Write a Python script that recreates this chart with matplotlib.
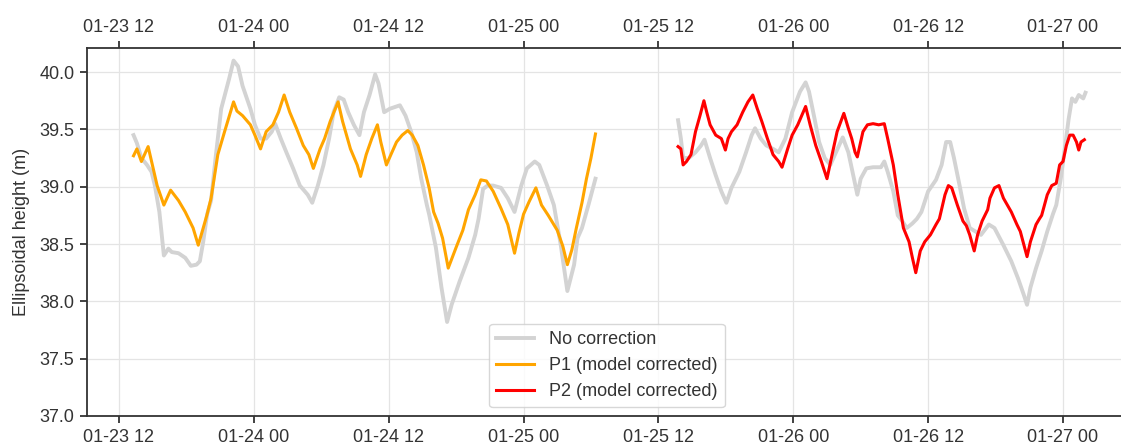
import matplotlib
matplotlib.use("Agg")
import matplotlib.pyplot as plt
import matplotlib.dates as mdates
import pandas as pd

plt.rcParams['font.family'] = ['Liberation Sans', 'DejaVu Sans']

START = pd.Timestamp("2021-01-23 12:00")

# Period 1: hours after 01-23 12:00
p1_raw_hours = [1.3, 1.6, 2.0, 2.5, 2.9, 3.2, 3.6, 4.0, 4.4, 4.7, 5.3, 5.9, 6.4, 6.9, 7.2, 7.5,
                7.85, 8.2, 8.6, 9.1, 9.8, 10.2, 10.6, 11.0, 11.7, 12.1, 12.6, 13.1, 13.6, 13.9,
                14.4, 14.9, 15.5, 16.1, 16.8, 17.2, 17.7, 18.2, 18.7, 19.1, 19.6, 20.0, 20.4,
                20.9, 21.4, 21.8, 22.3, 22.8, 23.1, 23.6, 24.1, 24.7, 25.0, 25.5, 26.0, 26.5,
                26.9, 27.4, 27.6, 28.2, 28.7, 29.2, 29.6, 30.3, 31.1, 31.7, 32.0, 32.4, 32.8,
                33.3, 34.0, 34.6, 35.2, 35.8, 36.3, 37.0, 37.4, 38.1, 38.7, 39.3, 39.9, 40.5,
                40.8, 41.2, 41.8, 42.4]
p1_raw_values = [39.45, 39.38, 39.25, 39.19, 39.13, 39.01, 38.78, 38.40, 38.46, 38.43, 38.42,
                 38.38, 38.31, 38.32, 38.35, 38.52, 38.76, 38.88, 39.25, 39.68, 39.94, 40.10,
                 40.05, 39.88, 39.68, 39.54, 39.42, 39.42, 39.48, 39.55, 39.42, 39.30, 39.16,
                 39.01, 38.93, 38.86, 39.01, 39.19, 39.42, 39.65, 39.78, 39.76, 39.65, 39.54,
                 39.45, 39.65, 39.80, 39.98, 39.90, 39.65, 39.68, 39.70, 39.71, 39.62, 39.48,
                 39.30, 39.07, 38.84, 38.76, 38.47, 38.12, 37.82, 37.97, 38.17, 38.38, 38.58,
                 38.72, 38.98, 39.01, 39.01, 38.99, 38.90, 38.78, 39.01, 39.16, 39.22, 39.19,
                 39.01, 38.84, 38.50, 38.09, 38.32, 38.55, 38.64, 38.85, 39.07]

p1_hours = [1.3, 1.6, 2.0, 2.6, 3.4, 4.0, 4.6, 5.3, 5.9, 6.6, 7.06, 7.5, 7.85, 8.2, 8.8, 9.4,
            10.2, 10.5, 11.0, 11.7, 12.1, 12.6, 13.1, 13.7, 14.2, 14.7, 15.2, 15.8, 16.4, 16.9,
            17.3, 17.9, 18.3, 18.8, 19.5, 19.9, 20.6, 21.2, 21.5, 22.0, 22.5, 23.0, 23.3, 23.8,
            24.2, 24.7, 25.2, 25.7, 26.1, 26.6, 27.1, 27.6, 28.0, 28.4, 28.8, 29.3, 30.0, 30.6,
            31.1, 31.7, 32.2, 32.7, 33.3, 34.0, 34.6, 35.2, 35.6, 36.0, 36.5, 37.1, 37.6, 38.2,
            39.0, 39.5, 39.9, 40.3, 40.7, 41.2, 41.6, 42.0, 42.4]
p1_values = [39.27, 39.33, 39.22, 39.35, 39.01, 38.84, 38.97, 38.88, 38.78, 38.64, 38.49,
             38.64, 38.76, 38.90, 39.28, 39.48, 39.74, 39.66, 39.62, 39.54, 39.45, 39.33,
             39.48, 39.54, 39.65, 39.80, 39.65, 39.51, 39.36, 39.28, 39.16, 39.33, 39.42,
             39.57, 39.74, 39.57, 39.33, 39.19, 39.09, 39.28, 39.42, 39.54, 39.39, 39.19,
             39.28, 39.39, 39.45, 39.49, 39.45, 39.36, 39.19, 38.99, 38.78, 38.68, 38.55,
             38.29, 38.47, 38.62, 38.80, 38.93, 39.06, 39.05, 38.96, 38.81, 38.67, 38.42,
             38.60, 38.76, 38.87, 38.99, 38.84, 38.75, 38.62, 38.48, 38.32, 38.45, 38.64,
             38.86, 39.07, 39.25, 39.46]

# Period 2
p2_raw_hours = [49.75, 50.0, 50.2, 50.7, 51.3, 51.8, 52.1, 52.6, 53.1, 53.6, 54.05, 54.5, 55.2,
                55.8, 56.3, 56.6, 57.1, 57.6, 58.2, 58.7, 59.3, 59.9, 60.6, 61.1, 61.4, 61.9,
                62.3, 62.8, 63.3, 63.8, 64.4, 64.9, 65.4, 65.7, 66.0, 66.5, 67.1, 67.8, 68.1,
                68.4, 68.9, 69.3, 69.7, 70.1, 70.6, 71.0, 71.4, 72.0, 72.7, 73.2, 73.6, 73.96,
                74.3, 74.8, 75.2, 75.7, 76.2, 76.7, 77.4, 77.9, 78.7, 79.4, 80.0, 80.5, 80.8,
                81.1, 81.6, 82.1, 82.6, 83.1, 83.4, 83.8, 84.2, 84.5, 84.8, 85.1, 85.4, 85.8,
                86.0]
p2_raw_values = [39.58, 39.42, 39.25, 39.25, 39.30, 39.36, 39.41, 39.25, 39.10, 38.96, 38.86,
                 38.99, 39.13, 39.30, 39.45, 39.51, 39.42, 39.36, 39.33, 39.30, 39.42, 39.65,
                 39.83, 39.91, 39.83, 39.59, 39.39, 39.25, 39.19, 39.30, 39.43, 39.30, 39.07,
                 38.93, 39.07, 39.16, 39.17, 39.17, 39.22, 39.13, 38.96, 38.75, 38.70, 38.64,
                 38.68, 38.72, 38.78, 38.96, 39.06, 39.19, 39.39, 39.39, 39.25, 39.01, 38.81,
                 38.64, 38.61, 38.58, 38.67, 38.64, 38.49, 38.35, 38.20, 38.06, 37.97, 38.12,
                 38.29, 38.44, 38.61, 38.76, 38.84, 39.07, 39.36, 39.59, 39.77, 39.74, 39.80,
                 39.77, 39.82]

p2_hours = [49.75, 50.0, 50.2, 50.5, 50.9, 51.3, 51.7, 52.05, 52.3, 52.6, 53.1, 53.6, 53.96,
            54.2, 54.5, 55.0, 55.5, 55.97, 56.4, 56.8, 57.2, 57.7, 58.2, 58.7, 59.0, 59.5,
            59.9, 60.4, 61.1, 61.5, 62.0, 62.5, 63.0, 63.5, 63.9, 64.5, 64.9, 65.2, 65.5,
            65.7, 66.2, 66.6, 67.1, 67.6, 68.1, 68.4, 68.9, 69.3, 69.8, 70.3, 70.6, 70.9,
            71.3, 71.7, 72.2, 72.7, 73.0, 73.5, 73.8, 74.1, 74.6, 75.1, 75.4, 75.7, 76.1,
            76.4, 76.8, 77.3, 77.5, 77.9, 78.3, 78.7, 79.4, 79.9, 80.2, 80.5, 80.8, 81.1,
            81.6, 81.9, 82.1, 82.6, 83.0, 83.4, 83.7, 84.0, 84.3, 84.6, 84.9, 85.2, 85.4,
            85.6, 85.9]
p2_values = [39.35, 39.33, 39.19, 39.22, 39.28, 39.48, 39.62, 39.75, 39.65, 39.54, 39.45,
             39.42, 39.32, 39.42, 39.48, 39.54, 39.65, 39.74, 39.80, 39.68, 39.57, 39.42,
             39.28, 39.22, 39.17, 39.33, 39.45, 39.54, 39.70, 39.54, 39.36, 39.22, 39.07,
             39.30, 39.48, 39.64, 39.51, 39.42, 39.30, 39.26, 39.48, 39.54, 39.55, 39.54,
             39.55, 39.42, 39.19, 38.93, 38.64, 38.52, 38.38, 38.25, 38.44, 38.52, 38.58,
             38.67, 38.72, 38.93, 39.01, 38.99, 38.84, 38.70, 38.66, 38.58, 38.44, 38.58,
             38.70, 38.80, 38.90, 38.99, 39.01, 38.90, 38.78, 38.67, 38.61, 38.50, 38.39,
             38.52, 38.67, 38.72, 38.75, 38.93, 39.01, 39.03, 39.19, 39.22, 39.36, 39.45,
             39.45, 39.39, 39.32, 39.39, 39.41]

labels = ["No correction", "P1 (model corrected)", "P2 (model corrected)"]
colors = ["#d3d3d3", "#ffa500", "#ff0000"]


def to_time(hours):
    return START + pd.to_timedelta(hours, unit="h")


fig = plt.figure(figsize=(11.21, 4.46), dpi=100)
ax = fig.add_axes([87 / 1121, 30 / 446, 1 - 87 / 1121, 368 / 446])

ax.plot(to_time(p1_raw_hours), p1_raw_values, color=colors[0], lw=2.8, label=labels[0],
        zorder=2)
ax.plot(to_time(p2_raw_hours), p2_raw_values, color=colors[0], lw=2.8, zorder=2)
ax.plot(to_time(p1_hours), p1_values, color=colors[1], lw=2.2, label=labels[1], zorder=3)
ax.plot(to_time(p2_hours), p2_values, color=colors[2], lw=2.2, label=labels[2], zorder=3)

ax.set_xlim(START - pd.Timedelta(hours=2.84), START + pd.Timedelta(hours=89.16))
ax.set_ylim(37.0, 40.21)
ax.set_yticks([37.0, 37.5, 38.0, 38.5, 39.0, 39.5, 40.0])
ax.yaxis.set_major_formatter(matplotlib.ticker.FormatStrFormatter('%.1f'))
ax.xaxis.set_major_locator(mdates.HourLocator(byhour=[0, 12]))
ax.xaxis.set_major_formatter(mdates.DateFormatter('%m-%d %H'))

ax.grid(True, color='#e4e4e4', lw=0.9, zorder=0)
ax.set_axisbelow(True)
for side in ['left', 'top', 'bottom']:
    ax.spines[side].set_color('#333333')
    ax.spines[side].set_linewidth(1.3)
ax.spines['right'].set_visible(False)

ax.tick_params(axis='both', labelsize=13, colors='#333333', length=5, width=1.3)
ax.tick_params(axis='x', top=True, labeltop=True, bottom=True, labelbottom=True, pad=4)
ax.tick_params(axis='y', pad=4)

ax.set_ylabel("Ellipsoidal height (m)", fontsize=13, color='#333333', labelpad=7)

leg = ax.legend(loc='lower left', bbox_to_anchor=(0.389, 0.024), borderaxespad=0,
                fontsize=13, frameon=True, fancybox=True, framealpha=0.85,
                edgecolor='#d0d0d0', handlelength=2.1, labelspacing=0.5)
for t in leg.get_texts():
    t.set_color('#333333')

fig.savefig("out.png", dpi=100)
